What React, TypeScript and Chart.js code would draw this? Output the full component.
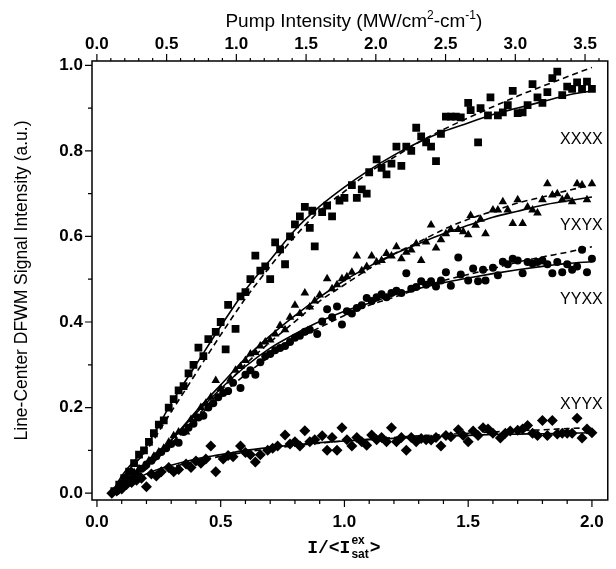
import React, { useEffect, useRef } from "react";
import { Chart, registerables } from "chart.js";
Chart.register(...registerables);

// ---- data (bottom axis: I/<I_sat^ex>, left axis: signal) ----
const xxxxX = [0.07,0.09,0.11,0.13,0.15,0.17,0.19,0.21,0.23,0.25,0.27,0.29,0.31,0.33,0.35,0.37,0.39,0.41,0.43,0.45,0.48,0.50,0.52,0.53,0.56,0.58,0.60,0.62,0.64,0.66,0.68,0.70,0.72,0.74,0.76,0.78,0.80,0.82,0.84,0.86,0.87,0.88,0.91,0.93,0.95,0.98,1.00,1.03,1.05,1.07,1.09,1.10,1.13,1.15,1.17,1.19,1.21,1.23,1.25,1.27,1.29,1.31,1.33,1.35,1.37,1.39,1.41,1.43,1.45,1.47,1.50,1.51,1.54,1.55,1.58,1.59,1.62,1.64,1.66,1.68,1.70,1.72,1.74,1.76,1.78,1.80,1.82,1.84,1.86,1.88,1.90,1.92,1.94,1.96,1.98,2.00];
const xxxxY = [0.005,0.02,0.035,0.05,0.07,0.09,0.10,0.12,0.14,0.16,0.17,0.20,0.22,0.24,0.25,0.28,0.30,0.34,0.32,0.36,0.377,0.40,0.336,0.44,0.384,0.46,0.47,0.50,0.555,0.52,0.53,0.50,0.586,0.57,0.535,0.60,0.628,0.647,0.669,0.62,0.66,0.577,0.657,0.672,0.647,0.684,0.69,0.72,0.69,0.71,0.70,0.75,0.78,0.76,0.745,0.77,0.81,0.765,0.81,0.80,0.854,0.834,0.82,0.81,0.776,0.84,0.88,0.88,0.88,0.878,0.912,0.895,0.82,0.90,0.883,0.925,0.883,0.89,0.907,0.94,0.888,0.89,0.907,0.956,0.925,0.912,0.937,0.97,0.985,0.93,0.95,0.945,0.96,0.945,0.962,0.945];

const yxyxX = [0.07,0.09,0.11,0.13,0.15,0.17,0.19,0.21,0.23,0.25,0.27,0.29,0.31,0.33,0.36,0.38,0.40,0.42,0.44,0.46,0.48,0.50,0.52,0.54,0.56,0.58,0.60,0.62,0.64,0.66,0.68,0.70,0.72,0.74,0.76,0.78,0.80,0.82,0.84,0.86,0.88,0.90,0.93,0.95,0.97,0.99,1.01,1.03,1.05,1.07,1.09,1.11,1.13,1.15,1.17,1.19,1.21,1.23,1.25,1.27,1.29,1.31,1.33,1.35,1.37,1.39,1.41,1.43,1.46,1.48,1.50,1.51,1.53,1.55,1.57,1.60,1.62,1.64,1.66,1.68,1.70,1.72,1.74,1.76,1.78,1.80,1.82,1.84,1.86,1.88,1.90,1.92,1.94,1.96,1.98,2.00];
const yxyxY = [0.005,0.011,0.024,0.033,0.048,0.057,0.062,0.076,0.086,0.096,0.105,0.119,0.134,0.143,0.143,0.172,0.181,0.2,0.21,0.224,0.263,0.244,0.235,0.267,0.287,0.296,0.31,0.325,0.329,0.344,0.353,0.358,0.372,0.392,0.382,0.411,0.439,0.42,0.468,0.435,0.449,0.463,0.501,0.478,0.487,0.501,0.506,0.516,0.554,0.52,0.53,0.554,0.54,0.544,0.56,0.554,0.576,0.548,0.563,0.568,0.583,0.544,0.587,0.627,0.573,0.592,0.606,0.616,0.616,0.611,0.604,0.649,0.626,0.64,0.606,0.662,0.662,0.681,0.662,0.63,0.686,0.63,0.669,0.662,0.655,0.686,0.723,0.697,0.7,0.686,0.692,0.681,0.723,0.72,0.686,0.723];

const yyxxX = [0.08,0.10,0.12,0.14,0.16,0.18,0.20,0.22,0.24,0.26,0.28,0.30,0.33,0.35,0.37,0.39,0.41,0.43,0.45,0.47,0.49,0.51,0.53,0.55,0.58,0.60,0.62,0.64,0.66,0.68,0.70,0.72,0.74,0.76,0.78,0.80,0.82,0.84,0.86,0.89,0.91,0.93,0.95,0.97,0.99,1.01,1.03,1.05,1.07,1.09,1.11,1.13,1.15,1.17,1.19,1.21,1.23,1.25,1.27,1.29,1.31,1.33,1.35,1.37,1.39,1.41,1.43,1.46,1.47,1.50,1.52,1.54,1.56,1.57,1.60,1.62,1.64,1.66,1.68,1.70,1.72,1.74,1.76,1.78,1.80,1.82,1.84,1.86,1.88,1.90,1.92,1.94,1.96,1.98,2.00];
const yyxxY = [0.005,0.014,0.024,0.033,0.043,0.057,0.067,0.076,0.086,0.096,0.105,0.115,0.118,0.143,0.153,0.162,0.177,0.181,0.2,0.21,0.224,0.234,0.239,0.258,0.246,0.277,0.287,0.277,0.306,0.32,0.325,0.334,0.339,0.344,0.353,0.363,0.368,0.377,0.382,0.372,0.401,0.43,0.411,0.436,0.394,0.425,0.42,0.433,0.439,0.456,0.449,0.458,0.465,0.458,0.468,0.473,0.468,0.514,0.478,0.482,0.495,0.487,0.495,0.483,0.497,0.516,0.485,0.551,0.511,0.497,0.525,0.495,0.522,0.497,0.527,0.509,0.541,0.535,0.548,0.544,0.514,0.54,0.537,0.54,0.544,0.535,0.514,0.54,0.516,0.535,0.522,0.53,0.569,0.516,0.548];

const xyyxX = [0.06,0.08,0.10,0.12,0.14,0.16,0.18,0.20,0.22,0.24,0.26,0.29,0.31,0.33,0.36,0.38,0.40,0.42,0.44,0.46,0.48,0.51,0.53,0.55,0.58,0.60,0.62,0.64,0.66,0.69,0.71,0.73,0.76,0.78,0.80,0.82,0.84,0.86,0.88,0.91,0.93,0.95,0.97,0.99,1.01,1.03,1.05,1.07,1.09,1.11,1.13,1.15,1.17,1.19,1.21,1.23,1.25,1.27,1.29,1.31,1.33,1.35,1.37,1.39,1.41,1.43,1.46,1.48,1.50,1.52,1.54,1.56,1.58,1.60,1.63,1.65,1.67,1.70,1.72,1.74,1.76,1.78,1.80,1.82,1.84,1.86,1.88,1.90,1.92,1.94,1.96,1.98,2.00];
const xyyxY = [0.0,0.005,0.01,0.02,0.025,0.03,0.035,0.015,0.045,0.04,0.05,0.06,0.05,0.055,0.068,0.06,0.075,0.07,0.08,0.11,0.05,0.08,0.088,0.085,0.11,0.095,0.09,0.073,0.09,0.10,0.105,0.11,0.136,0.115,0.12,0.11,0.146,0.12,0.125,0.134,0.10,0.13,0.10,0.153,0.125,0.11,0.13,0.12,0.112,0.136,0.125,0.13,0.12,0.153,0.12,0.13,0.10,0.13,0.12,0.128,0.125,0.124,0.13,0.11,0.135,0.132,0.148,0.135,0.12,0.145,0.135,0.153,0.15,0.14,0.129,0.14,0.145,0.147,0.15,0.158,0.14,0.135,0.17,0.135,0.17,0.138,0.14,0.14,0.14,0.175,0.129,0.15,0.141];

// fitted curves (solid = model 1, dashed = model 2)
const fitX = [0.06,0.1,0.2,0.3,0.4,0.5,0.6,0.7,0.8,0.9,1.0,1.1,1.2,1.3,1.4,1.5,1.6,1.7,1.8,1.9,2.0];
const xxxxSolid = [0.0,0.04,0.11,0.21,0.30,0.39,0.475,0.545,0.615,0.67,0.715,0.755,0.79,0.82,0.845,0.865,0.885,0.90,0.915,0.93,0.94];
const xxxxDash = [0.0,0.035,0.10,0.19,0.28,0.37,0.455,0.53,0.60,0.66,0.705,0.75,0.785,0.82,0.85,0.877,0.903,0.928,0.951,0.973,0.995];
const yxyxSolid = [0.0,0.019,0.067,0.124,0.191,0.253,0.315,0.368,0.415,0.458,0.497,0.53,0.559,0.583,0.606,0.626,0.645,0.659,0.673,0.683,0.692];
const yxyxDash = [0.0,0.014,0.057,0.115,0.177,0.239,0.301,0.353,0.401,0.449,0.487,0.525,0.559,0.587,0.616,0.64,0.659,0.678,0.692,0.707,0.72];
const yyxxSolid = [0.0,0.019,0.067,0.124,0.186,0.244,0.296,0.339,0.372,0.401,0.425,0.444,0.463,0.478,0.492,0.503,0.513,0.522,0.53,0.537,0.541];
const yyxxDash = [0.0,0.014,0.057,0.115,0.172,0.229,0.277,0.32,0.358,0.387,0.415,0.439,0.458,0.478,0.497,0.511,0.525,0.54,0.552,0.563,0.576];
const xyyxSolid = [0.0,0.01,0.045,0.065,0.08,0.09,0.10,0.107,0.113,0.118,0.122,0.125,0.128,0.131,0.133,0.135,0.137,0.138,0.139,0.14,0.141];
const xyyxDash = [0.0,0.008,0.04,0.06,0.075,0.086,0.096,0.104,0.111,0.117,0.122,0.126,0.13,0.134,0.137,0.14,0.143,0.146,0.148,0.151,0.153];

const seriesNames = ["XXXX", "YXYX", "YYXX", "XYYX"];
const seriesLabelY = [0.827, 0.625, 0.452, 0.206];

const SANS = "'Liberation Sans', Arial, Helvetica, sans-serif";
const MONO = "'Liberation Mono', 'Courier New', monospace";

const pts = (xs: number[], ys: number[]) => xs.map((x, i) => ({ x, y: ys[i] }));

const framePlugin = {
  id: "framePlugin",
  afterDraw(chart: any) {
    const { ctx, chartArea: ca, scales } = chart;
    const x = scales.x, x2 = scales.x2, y = scales.y;
    ctx.save();
    ctx.strokeStyle = "#000";
    ctx.lineWidth = 1.5;
    ctx.strokeRect(ca.left, ca.top, ca.right - ca.left, ca.bottom - ca.top);
    ctx.lineWidth = 1.2;
    ctx.beginPath();
    for (let i = 0; i <= 20; i++) {
      const px = x.getPixelForValue(i / 10);
      const len = i % 5 === 0 ? 7 : 4;
      ctx.moveTo(px, ca.bottom);
      ctx.lineTo(px, ca.bottom + len);
    }
    for (let i = 0; i <= 36; i++) {
      const v = i / 10;
      if (v > x2.max) break;
      const px = x2.getPixelForValue(v);
      const len = i % 5 === 0 ? 7 : 3;
      ctx.moveTo(px, ca.top);
      ctx.lineTo(px, ca.top - len);
    }
    for (let i = 0; i <= 10; i++) {
      const py = y.getPixelForValue(i / 10);
      const len = i % 2 === 0 ? 7 : 4;
      ctx.moveTo(ca.left, py);
      ctx.lineTo(ca.left - len, py);
    }
    ctx.stroke();

    // series labels
    ctx.fillStyle = "#000";
    ctx.font = `16px ${SANS}`;
    ctx.textAlign = "right";
    ctx.textBaseline = "middle";
    seriesNames.forEach((n, i) => {
      ctx.fillText(n, ca.right - 5, y.getPixelForValue(seriesLabelY[i]));
    });

    // y title
    ctx.save();
    ctx.translate(22, (ca.top + ca.bottom) / 2);
    ctx.rotate(-Math.PI / 2);
    ctx.textAlign = "center";
    ctx.textBaseline = "middle";
    ctx.font = `17.5px ${SANS}`;
    ctx.fillText("Line-Center DFWM Signal Intensity (a.u.)", 0, 0);
    ctx.restore();

    // top title with superscripts
    const big = `19px ${SANS}`;
    const small = `12px ${SANS}`;
    const parts: [string, string, number][] = [
      ["Pump Intensity (MW/cm", big, 0],
      ["2", small, -8],
      ["-cm", big, 0],
      ["-1", small, -8],
      [")", big, 0],
    ];
    let total = 0;
    parts.forEach(([t, f]) => { ctx.font = f; total += ctx.measureText(t).width; });
    let cx = (ca.left + ca.right) / 2 + 4 - total / 2;
    ctx.textAlign = "left";
    ctx.textBaseline = "alphabetic";
    const topBase = 27;
    parts.forEach(([t, f, dy]) => {
      ctx.font = f;
      ctx.fillText(t, cx, topBase + dy);
      cx += ctx.measureText(t).width;
    });

    // bottom title I/<I_sat^ex>
    const mono = `bold 18px ${MONO}`;
    const sub = `bold 12px ${SANS}`;
    const main1 = "I/<I";
    const main2 = ">";
    ctx.font = mono;
    const w1 = ctx.measureText(main1).width;
    const w2 = ctx.measureText(main2).width;
    ctx.font = sub;
    const ws = Math.max(ctx.measureText("ex").width, ctx.measureText("sat").width);
    const tw = w1 + ws + 2 + w2;
    let bx = (ca.left + ca.right) / 2 - 6 - tw / 2;
    const base = 553;
    ctx.font = mono;
    ctx.fillText(main1, bx, base);
    bx += w1 + 1;
    ctx.font = sub;
    ctx.fillText("ex", bx, base - 9);
    ctx.fillText("sat", bx, base + 5);
    bx += ws + 1;
    ctx.font = mono;
    ctx.fillText(main2, bx, base);
    ctx.restore();
  },
};

export default function App() {
  const ref = useRef<HTMLCanvasElement | null>(null);
  useEffect(() => {
    if (!ref.current) return;
    const markerBase = { backgroundColor: "#000", borderColor: "#000", borderWidth: 0, showLine: false };
    const lineBase = { borderColor: "#000", borderWidth: 1.6, pointRadius: 0, showLine: true, fill: false, cubicInterpolationMode: "monotone" as const };
    const tickFont = { family: SANS, size: 17, weight: "bold" as const };
    const chart = new Chart(ref.current, {
      type: "scatter",
      data: {
        datasets: [
          { ...lineBase, label: "XXXX fit", data: pts(fitX, xxxxSolid) },
          { ...lineBase, label: "XXXX fit 2", data: pts(fitX, xxxxDash), borderDash: [6, 4] },
          { ...lineBase, label: "YXYX fit", data: pts(fitX, yxyxSolid) },
          { ...lineBase, label: "YXYX fit 2", data: pts(fitX, yxyxDash), borderDash: [6, 4] },
          { ...lineBase, label: "YYXX fit", data: pts(fitX, yyxxSolid) },
          { ...lineBase, label: "YYXX fit 2", data: pts(fitX, yyxxDash), borderDash: [6, 4] },
          { ...lineBase, label: "XYYX fit", data: pts(fitX, xyyxSolid) },
          { ...lineBase, label: "XYYX fit 2", data: pts(fitX, xyyxDash), borderDash: [6, 4] },
          { ...markerBase, label: "XXXX", data: pts(xxxxX, xxxxY), pointStyle: "rect", pointRadius: 5.5 },
          { ...markerBase, label: "YXYX", data: pts(yxyxX, yxyxY), pointStyle: "triangle", pointRadius: 5 },
          { ...markerBase, label: "YYXX", data: pts(yyxxX, yyxxY), pointStyle: "circle", pointRadius: 4 },
          { ...markerBase, label: "XYYX", data: pts(xyyxX, xyyxY), pointStyle: "rectRot", pointRadius: 5.5 },
        ],
      },
      options: {
        responsive: false,
        animation: false,
        devicePixelRatio: 1,
        layout: { padding: { left: 0, right: 1, top: 0, bottom: 0 } },
        plugins: { legend: { display: false }, tooltip: { enabled: false }, title: { display: false } },
        scales: {
          x: {
            type: "linear", position: "bottom", min: -0.02, max: 2.064,
            afterFit: (s: any) => { s.height = 69; },
            grid: { display: false, drawTicks: false }, border: { display: false },
            ticks: { stepSize: 0.5, includeBounds: false, autoSkip: false, maxRotation: 0, padding: 12, color: "#000", font: tickFont, callback: (v: any) => Number(v).toFixed(1) },
          },
          x2: {
            type: "linear", position: "top", min: -0.035, max: 3.663,
            afterFit: (s: any) => { s.height = 61; },
            grid: { display: false, drawTicks: false }, border: { display: false },
            ticks: { stepSize: 0.5, includeBounds: false, autoSkip: false, maxRotation: 0, padding: 6, color: "#000", font: tickFont, callback: (v: any) => Number(v).toFixed(1) },
          },
          y: {
            type: "linear", position: "left", min: -0.016, max: 1.01,
            afterFit: (s: any) => { s.width = 92; },
            grid: { display: false, drawTicks: false }, border: { display: false },
            ticks: { stepSize: 0.2, includeBounds: false, autoSkip: false, padding: 9, color: "#000", font: tickFont, callback: (v: any) => Number(v).toFixed(1) },
          },
        },
      },
      plugins: [framePlugin],
    } as any);
    return () => chart.destroy();
  }, []);
  return (
    <div style={{ position: "absolute", left: 0, top: 0, width: 616, height: 569, background: "#fff" }}>
      <canvas ref={ref} width={616} height={569} style={{ display: "block" }} />
    </div>
  );
}
